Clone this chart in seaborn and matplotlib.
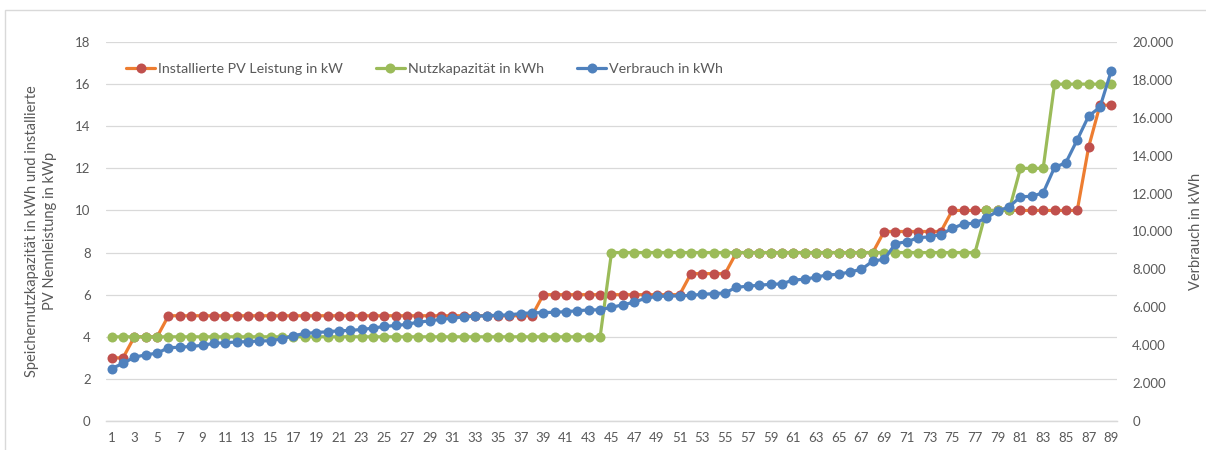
import numpy as np
import pandas as pd
import matplotlib
matplotlib.use("Agg")
import matplotlib.pyplot as plt
from matplotlib.patches import Rectangle
from matplotlib.ticker import FixedLocator, FuncFormatter
import seaborn as sns

# Haushalte 1..89, sortiert
haushalt = list(range(1, 90))

pv_leistung_kw = (
    [3, 3, 4, 4, 4] + [5] * 33 + [6] * 13 + [7] * 4 + [8] * 13
    + [9] * 6 + [10] * 12 + [13, 15, 15]
)

nutzkapazitaet_kwh = [4] * 44 + [8] * 33 + [10, 10, 10] + [12, 12, 12] + [16] * 6

verbrauch_kwh = [
    2770, 3040, 3370, 3490, 3580, 3870, 3890, 3940, 3990, 4100,
    4130, 4170, 4190, 4220, 4240, 4330, 4500, 4620, 4670, 4710,
    4760, 4780, 4830, 4900, 4990, 5040, 5100, 5220, 5280, 5370,
    5420, 5500, 5530, 5560, 5580, 5600, 5670, 5710, 5720, 5740,
    5770, 5820, 5860, 5870, 6000, 6130, 6270, 6480, 6570, 6600,
    6600, 6630, 6690, 6720, 6760, 7060, 7110, 7170, 7210, 7240,
    7440, 7480, 7590, 7710, 7740, 7870, 8000, 8440, 8530, 9360,
    9460, 9670, 9720, 9840, 10170, 10400, 10440, 10720, 11080, 11300,
    11830, 11860, 12040, 13380, 13630, 14840, 16090, 16560, 18490,
]

df = pd.DataFrame({
    "haushalt": haushalt,
    "pv": pv_leistung_kw,
    "kap": nutzkapazitaet_kwh,
    "verbrauch": verbrauch_kwh,
})

sns.set_theme(style="white")
plt.rcParams["font.family"] = ["Lato", "DejaVu Sans"]

TXT = "#595959"
GRID = "#D9D9D9"

fig = plt.figure(figsize=(12.06, 4.5), dpi=100)
W, H = 1206, 450
ax1 = fig.add_axes([106 / W, 1 - 421 / H, (1117 - 106) / W, (421 - 42) / H])
ax2 = ax1.twinx()

line_kw = dict(marker="o", markersize=7.2, markeredgewidth=0, linewidth=2.3,
               estimator=None, sort=False)

sns.lineplot(data=df, x="haushalt", y="pv", ax=ax1, color="#ED7D31",
             markerfacecolor="#C0504D", markeredgecolor="#C0504D",
             label="Installierte PV Leistung in kW", zorder=3, **line_kw)
sns.lineplot(data=df, x="haushalt", y="kap", ax=ax1, color="#9BBB59",
             markerfacecolor="#9BBB59", markeredgecolor="#9BBB59",
             label="Nutzkapazität in kWh", zorder=4, **line_kw)
sns.lineplot(data=df, x="haushalt", y="verbrauch", ax=ax2, color="#4F81BD",
             markerfacecolor="#4F81BD", markeredgecolor="#4F81BD",
             label="Verbrauch in kWh", zorder=5, **line_kw)

# Achsen
ax1.set_xlim(0.5, 89.5)
ax1.set_ylim(0, 18)
ax2.set_ylim(0, 20000)
ax1.set_yticks(np.arange(0, 19, 2))
ax2.set_yticks(np.arange(0, 20001, 2000))
ax2.yaxis.set_major_formatter(FuncFormatter(lambda v, p: f"{int(v):,}".replace(",", ".")))

ax1.xaxis.set_major_locator(FixedLocator(haushalt[::2]))
ax1.xaxis.set_minor_locator(FixedLocator(np.arange(0.5, 90, 1.0)))
ax1.tick_params(axis="x", which="major", length=0, pad=8, labelsize=9.5, colors=TXT)
ax1.tick_params(axis="x", which="minor", length=4.5, width=0.9, color=GRID, direction="out")
ax1.tick_params(axis="y", length=0, pad=11, labelsize=9.5, colors=TXT)
ax2.tick_params(axis="y", length=0, pad=11, labelsize=9.5, colors=TXT)

ax1.grid(axis="y", color=GRID, linewidth=0.9)
ax1.set_axisbelow(True)
for a in (ax1, ax2):
    for s in ("top", "left", "right"):
        a.spines[s].set_visible(False)
    a.spines["bottom"].set_color(GRID)
    a.spines["bottom"].set_linewidth(0.9)
    a.set_xlabel("")
    a.set_ylabel("")

ax1.set_zorder(ax2.get_zorder() - 1)
ax1.patch.set_visible(False)
ax2.patch.set_visible(False)

# Legende
h1, l1 = ax1.get_legend_handles_labels()
h2, l2 = ax2.get_legend_handles_labels()
if ax1.get_legend():
    ax1.get_legend().remove()
ax2.legend(h1 + h2, l1 + l2, ncol=3, frameon=False, loc="center left",
           bbox_to_anchor=(0.02, 0.928), borderaxespad=0, borderpad=0,
           handlelength=2.0, handletextpad=0.25, columnspacing=2.3,
           fontsize=10.3, labelcolor=TXT)

# Achsentitel
fig.text(41 / W, 1 - 231 / H,
         "Speichernutzkapazität in kWh und installierte\nPV Nennleistung in kWp",
         rotation=90, ha="center", va="center", multialignment="center",
         fontsize=10.5, color=TXT, linespacing=1.3)
fig.text(1196 / W, 1 - 231 / H, "Verbrauch in kWh", rotation=90,
         ha="center", va="center", fontsize=10.5, color=TXT)

# Rahmen des Diagrammbereichs
fig.patches.append(Rectangle((5 / W, -0.2), 1.2, 1.2 - 10 / H,
                             transform=fig.transFigure, fill=False,
                             edgecolor=GRID, linewidth=1.0))

fig.savefig("out.png", dpi=100)
